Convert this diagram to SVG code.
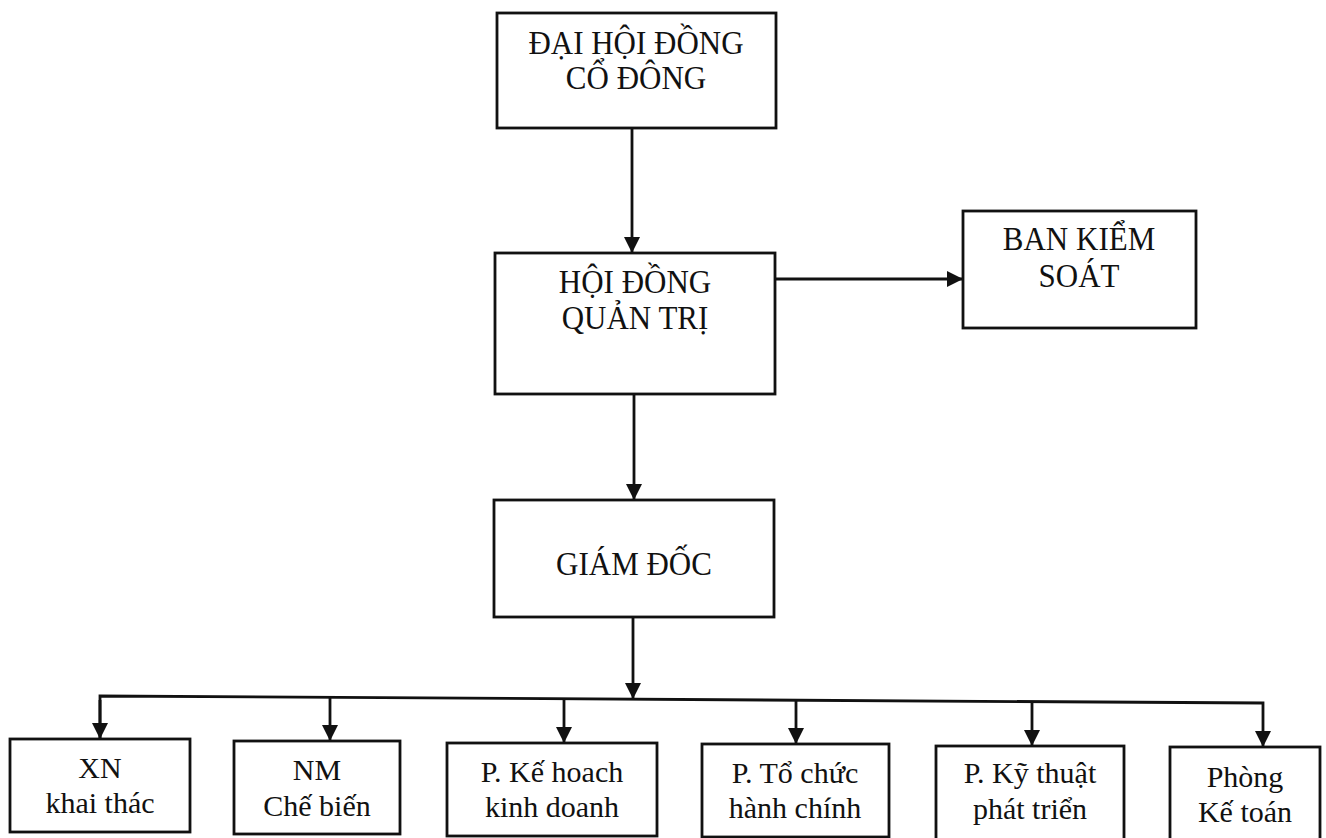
<svg xmlns="http://www.w3.org/2000/svg" width="1326" height="838" viewBox="0 0 1326 838">
<style>
  .box{fill:#fff;stroke:#111;stroke-width:2.8}
  .ln{fill:none;stroke:#111;stroke-width:2.8}
  text{font-family:'Liberation Serif','Times New Roman','Noto Serif','DejaVu Serif',serif;font-size:31px;fill:#111;text-anchor:middle}
  text.s{font-size:30px}
</style>
<defs>
  <marker id="ah" markerUnits="userSpaceOnUse" markerWidth="16" markerHeight="16" viewBox="0 0 16 16" refX="16" refY="8" orient="auto">
    <path d="M0,0 L16,8 L0,16 z" fill="#111"/>
  </marker>
</defs>
<rect width="1326" height="838" fill="#fff"/>
<g id="connectors">
  <line class="ln" x1="632" y1="128" x2="632" y2="253" marker-end="url(#ah)"/>
  <line class="ln" x1="775" y1="279" x2="963" y2="279" marker-end="url(#ah)"/>
  <line class="ln" x1="634" y1="394" x2="634" y2="500" marker-end="url(#ah)"/>
  <line class="ln" x1="633" y1="617" x2="633" y2="699" marker-end="url(#ah)"/>
  <polyline class="ln" points="100,739 100,696 1263,703 1263,747" marker-end="url(#ah)"/>
  <line class="ln" x1="100" y1="700" x2="100" y2="739" marker-end="url(#ah)"/>
  <line class="ln" x1="330" y1="697" x2="330" y2="741" marker-end="url(#ah)"/>
  <line class="ln" x1="564" y1="699" x2="564" y2="743" marker-end="url(#ah)"/>
  <line class="ln" x1="796" y1="700" x2="796" y2="744" marker-end="url(#ah)"/>
  <line class="ln" x1="1032" y1="702" x2="1032" y2="746" marker-end="url(#ah)"/>
</g>
<g id="dhdcd">
  <rect class="box" x="497" y="13" width="279" height="115"/>
  <text font-family="Liberation Serif, serif" transform="translate(636,54) scale(1,1.12)"><tspan x="0" y="0">ĐẠI HỘI ĐỒNG</tspan><tspan x="0" y="31.5">CỔ ĐÔNG</tspan></text>
</g>
<g id="hdqt">
  <rect class="box" x="495" y="253" width="280" height="141"/>
  <text font-family="Liberation Serif, serif" transform="translate(635,293) scale(1,1.12)"><tspan x="0" y="0">HỘI ĐỒNG</tspan><tspan x="0" y="32">QUẢN TRỊ</tspan></text>
</g>
<g id="bks">
  <rect class="box" x="963" y="211" width="233" height="117"/>
  <text font-family="Liberation Serif, serif" transform="translate(1079,250) scale(1,1.12)"><tspan x="0" y="0">BAN KIỂM</tspan><tspan x="0" y="33">SOÁT</tspan></text>
</g>
<g id="giamdoc">
  <rect class="box" x="494" y="500" width="280" height="117"/>
  <text font-family="Liberation Serif, serif" transform="translate(634,575) scale(1,1.12)" x="0" y="0">GIÁM ĐỐC</text>
</g>
<g id="xn">
  <rect class="box" x="10" y="739" width="180" height="93"/>
  <text class="s" font-family="Liberation Serif, serif"><tspan x="100" y="778">XN</tspan><tspan x="100" y="813">khai thác</tspan></text>
</g>
<g id="nm">
  <rect class="box" x="234" y="741" width="166" height="93"/>
  <text class="s" font-family="Liberation Serif, serif"><tspan x="317" y="780">NM</tspan><tspan x="317" y="816">Chế biến</tspan></text>
</g>
<g id="pkh">
  <rect class="box" x="447" y="743" width="210" height="93"/>
  <text class="s" font-family="Liberation Serif, serif"><tspan x="552" y="782">P. Kế hoach</tspan><tspan x="552" y="817">kinh doanh</tspan></text>
</g>
<g id="ptc">
  <rect class="box" x="702" y="744" width="187" height="93"/>
  <text class="s" font-family="Liberation Serif, serif"><tspan x="795" y="783">P. Tổ chức</tspan><tspan x="795" y="818">hành chính</tspan></text>
</g>
<g id="pkt">
  <rect class="box" x="936" y="746" width="188" height="94"/>
  <text class="s" font-family="Liberation Serif, serif"><tspan x="1030" y="783">P. Kỹ thuật</tspan><tspan x="1030" y="819">phát triển</tspan></text>
</g>
<g id="pketoan">
  <rect class="box" x="1170" y="747" width="150" height="95"/>
  <text class="s" font-family="Liberation Serif, serif"><tspan x="1245" y="787">Phòng</tspan><tspan x="1245" y="822">Kế toán</tspan></text>
</g>
</svg>
